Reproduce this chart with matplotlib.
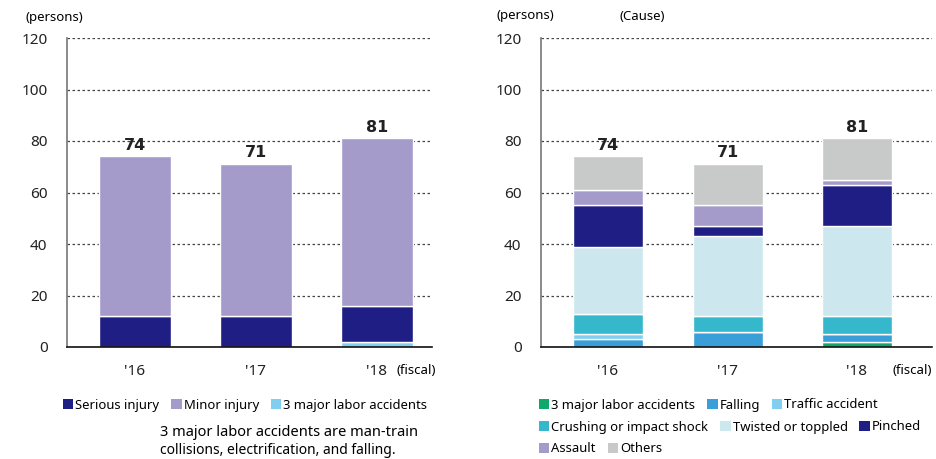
import matplotlib
matplotlib.use("Agg")
import matplotlib.pyplot as plt
from matplotlib.patches import Patch

plt.rcParams["font.family"] = ["Noto Sans", "DejaVu Sans"]

years = ["'16", "'17", "'18"]

# left chart: injury severity
serious = [12, 12, 14]
minor = [62, 59, 65]
major3_left = [0, 0, 2]
totals = [74, 71, 81]

# right chart: by cause
major3 = [0, 0, 2]
falling = [3, 6, 3]
traffic = [2, 0, 0]
crushing = [8, 6, 7]
twisted = [26, 31, 35]
pinched = [16, 4, 16]
assault = [6, 8, 2]
others = [13, 16, 16]

NAVY = "#1e1e84"
LAVENDER = "#a59bcb"
SKY = "#80cef0"
GREEN = "#10a76d"
BLUE = "#3a9fd9"
TEAL = "#35b8cb"
PALE = "#cce8ee"
GRAY = "#c8c9c9"

fig = plt.figure(figsize=(9.37, 4.59), dpi=100)
W, H = 937, 459


def make_axes(x0, x1, y0=38, y1=347):
    return fig.add_axes([x0 / W, (H - y1) / H, (x1 - x0) / W, (y1 - y0) / H])


def style(ax):
    ax.set_ylim(0, 120)
    ax.set_yticks(range(0, 121, 20))
    ax.yaxis.grid(True, linestyle=(0, (2, 2)), color="#444444", linewidth=0.9)
    ax.set_axisbelow(True)
    for s in ["top", "right"]:
        ax.spines[s].set_visible(False)
    ax.spines["left"].set_color("#777777")
    ax.spines["left"].set_linewidth(1.2)
    ax.spines["bottom"].set_color("#111111")
    ax.spines["bottom"].set_linewidth(1.2)
    ax.tick_params(axis="both", length=0, labelsize=11, colors="#222222")
    ax.tick_params(axis="y", pad=14)
    ax.tick_params(axis="x", pad=12)


def stack(ax, xs, series, colors, width):
    bottom = [0] * len(xs)
    for vals, c in zip(series, colors):
        ax.bar(xs, vals, width, bottom=bottom, color=c, edgecolor="white", linewidth=1.0)
        bottom = [b + v for b, v in zip(bottom, vals)]
    return bottom


def total_labels(ax, xs):
    for x, t in zip(xs, totals):
        ax.text(x, t + 1.5, str(t), ha="center", va="bottom", fontsize=11.5,
                fontweight="bold", family=["DejaVu Sans"], color="#222222")


# ---- left chart
axL = make_axes(67, 432)
xl = [0, 1, 2]
stack(axL, xl, [major3_left, serious, minor], [SKY, NAVY, LAVENDER], 0.59)
style(axL)
axL.set_xlim(-0.562, 2.455)
axL.set_xticks(xl)
axL.set_xticklabels(years)
total_labels(axL, xl)

# ---- right chart
axR = make_axes(541, 932)
xr = [0, 1, 2.075]
stack(axR, xr, [major3, falling, traffic, crushing, twisted, pinched, assault, others],
      [GREEN, BLUE, SKY, TEAL, PALE, NAVY, LAVENDER, GRAY], 0.58)
style(axR)
axR.set_xlim(-0.558, 2.7)
axR.set_xticks(xr)
axR.set_xticklabels(years)
total_labels(axR, xr)

# ---- header / axis notes
fig.text(25 / W, 1 - 17 / H, "(persons)", fontsize=9.5, va="center", ha="left")
fig.text(497 / W, 1 - 15 / H, "(persons)", fontsize=9.5, va="center", ha="left")
fig.text(620 / W, 1 - 17 / H, "(Cause)", fontsize=9.5, va="center", ha="left")
fig.text(397 / W, 1 - 370 / H, "(fiscal)", fontsize=9.5, va="center", ha="left")
fig.text(893 / W, 1 - 370 / H, "(fiscal)", fontsize=9.5, va="center", ha="left")

# ---- legends
def legend_row(labels, colors, x, y):
    handles = [Patch(facecolor=c, edgecolor="none") for c in colors]
    fig.legend(handles, labels, loc="center left", bbox_to_anchor=(x / W, 1 - y / H),
               ncol=len(labels), frameon=False, fontsize=9.4, handlelength=0.8,
               handleheight=0.8, handletextpad=0.15, columnspacing=0.9,
               borderaxespad=0, borderpad=0)


legend_row(["Serious injury", "Minor injury", "3 major labor accidents"],
           [NAVY, LAVENDER, SKY], 63, 405)
legend_row(["3 major labor accidents", "Falling", "Traffic accident"],
           [GREEN, BLUE, SKY], 539, 405)
legend_row(["Crushing or impact shock", "Twisted or toppled", "Pinched"],
           [TEAL, PALE, NAVY], 539, 427)
legend_row(["Assault", "Others"], [LAVENDER, GRAY], 539, 449)

fig.text(160 / W, 1 - 433 / H, "3 major labor accidents are man-train", fontsize=10.5,
         va="center", ha="left")
fig.text(160 / W, 1 - 450 / H, "collisions, electrification, and falling.", fontsize=10,
         va="center", ha="left")

fig.savefig("out.png", dpi=100)
